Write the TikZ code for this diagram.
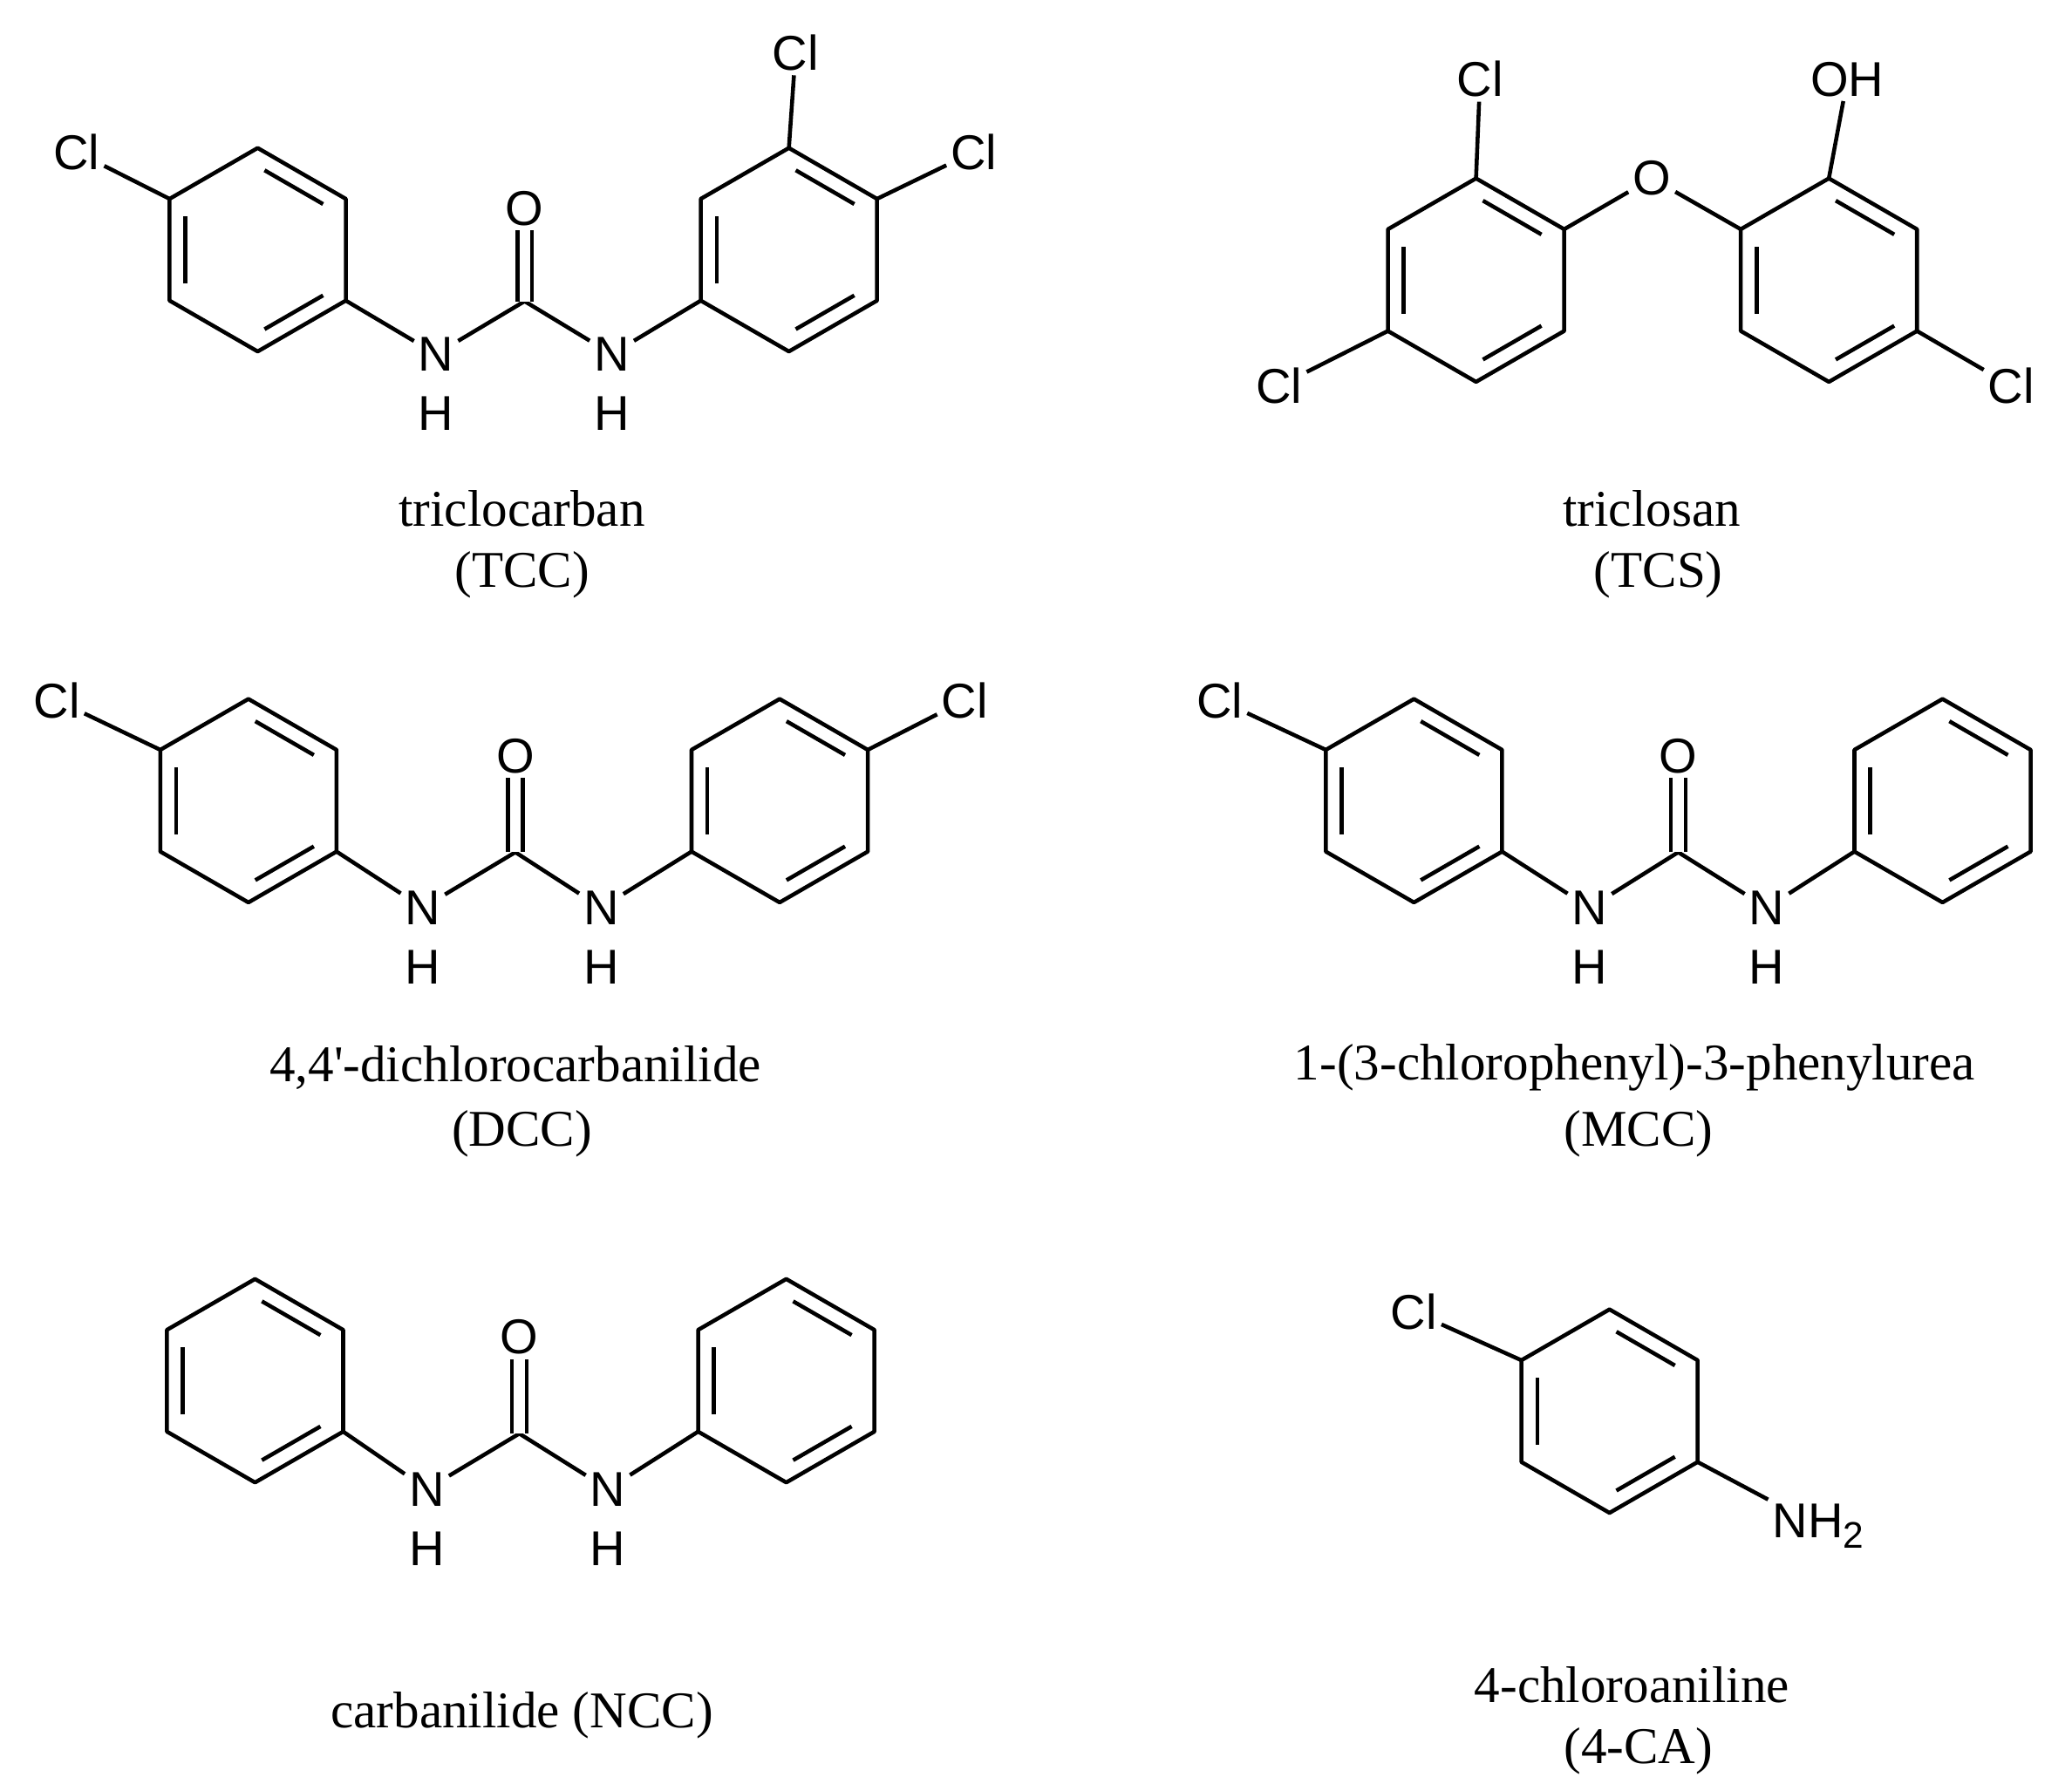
\documentclass[tikz,border=0pt]{standalone}
\usepackage{fontspec}
\setmainfont{Liberation Serif}
\newfontfamily\arialf{Liberation Sans}
\usetikzlibrary{calc}
\tikzset{bond/.style={line width=1.5pt,line join=round},
 atom/.style={font=\arialf\fontsize{18.5}{21}\selectfont,inner sep=1.5pt},
 caption/.style={font=\fontsize{19.5}{22}\selectfont,inner sep=0pt}}
\newcommand\benz[4]{%
 \foreach \i in {0,...,5}{\coordinate (#1\i) at ({#2+77*cos(90-60*\i)},{#3-77*sin(90-60*\i)});}
 \coordinate (#1c) at (#2,#3);
 \draw[bond] (#10)--(#11)--(#12)--(#13)--(#14)--(#15)--cycle;
 \foreach \i/\j in {#4}{\draw[bond,shorten >=3pt,shorten <=3pt] ($(#1c)!0.82!(#1\i)$) -- ($(#1c)!0.82!(#1\j)$);}
}
\newcommand\urea[7]{% prefix, N1x, N2x, Cx, y of N, y of C, y of O
 \node[atom] (#1n1) at (#2,#5) {N};
 \node[atom] (#1h1) at (#2,#5+45) {H};
 \node[atom] (#1n2) at (#3,#5) {N};
 \node[atom] (#1h2) at (#3,#5+45) {H};
 \coordinate (#1c) at (#4,#6);
 \node[atom] (#1o) at (#4,#7) {O};
 \draw[bond] (#1n1) -- (#1c) -- (#1n2);
 \draw[bond,double,double distance=4pt] (#1c) -- (#1o);
}
\begin{document}
\begin{tikzpicture}[x=0.5pt,y=-0.5pt]
\path[fill=white] (0,0) rectangle (1568,1350);
% TCC
\benz{a}{195}{189}{0/1,2/3,4/5}
\benz{b}{597}{189}{0/1,2/3,4/5}
\urea{t}{330}{463}{397}{268}{228}{158}
\node[atom] (tcl1) at (58,115) {Cl};
\node[atom] (tcl2) at (602,40) {Cl};
\node[atom] (tcl3) at (737,115) {Cl};
\draw[bond] (tcl1) -- (a5);
\draw[bond] (a2) -- (tn1);
\draw[bond] (tn2) -- (b4);
\draw[bond] (b0) -- (tcl2);
\draw[bond] (b1) -- (tcl3);
\node[caption] (cap1) at (395,385) {triclocarban};
\node[caption] (cap1b) at (395,435) {(TCC)};
% TCS
\benz{c}{1117}{212}{0/1,2/3,4/5}
\benz{d}{1384}{212}{0/1,2/3,4/5}
\node[atom] (scl1) at (1120,60) {Cl};
\node[atom] (so) at (1250,135) {O};
\node[atom] (soh) at (1398,60) {OH};
\node[atom] (scl2) at (968,292) {Cl};
\node[atom] (scl3) at (1522,292) {Cl};
\draw[bond] (c0) -- (scl1);
\draw[bond] (c1) -- (so) -- (d5);
\draw[bond] (d0) -- (soh);
\draw[bond] (c4) -- (scl2);
\draw[bond] (d2) -- (scl3);
\node[caption] (cap2) at (1250,385) {triclosan};
\node[caption] (cap2b) at (1255,435) {(TCS)};
% DCC
\benz{e}{188}{606}{0/1,2/3,4/5}
\benz{f}{590}{606}{0/1,2/3,4/5}
\urea{u}{320}{455}{390}{687}{645}{572}
\node[atom] (dcl1) at (43,530) {Cl};
\node[atom] (dcl2) at (730,530) {Cl};
\draw[bond] (dcl1) -- (e5);
\draw[bond] (e2) -- (un1);
\draw[bond] (un2) -- (f4);
\draw[bond] (f1) -- (dcl2);
\node[caption] (cap3) at (390,808) {4,4\textquotesingle-dichlorocarbanilide};
\node[caption] (cap3b) at (395,858) {(DCC)};
% MCC
\benz{g}{1070}{606}{0/1,2/3,4/5}
\benz{h}{1470}{606}{0/1,2/3,4/5}
\urea{m}{1203}{1337}{1270}{687}{645}{572}
\node[atom] (mcl1) at (923,530) {Cl};
\draw[bond] (mcl1) -- (g5);
\draw[bond] (g2) -- (mn1);
\draw[bond] (mn2) -- (h4);
\node[caption] (cap4) at (1237,808) {1-(3-chlorophenyl)-3-phenylurea};
\node[caption] (cap4b) at (1240,858) {(MCC)};
% NCC
\benz{i}{193}{1045}{0/1,2/3,4/5}
\benz{j}{595}{1045}{0/1,2/3,4/5}
\urea{n}{323}{460}{393}{1127}{1085}{1012}
\draw[bond] (i2) -- (nn1);
\draw[bond] (nn2) -- (j4);
\node[caption] (cap5) at (395,1298) {carbanilide (NCC)};
% 4-CA
\benz{k}{1218}{1068}{0/1,2/3,4/5}
\node[atom] (kcl) at (1070,993) {Cl};
\node[atom,anchor=west] (knh) at (1338,1155) {NH\raisebox{-4pt}{\fontsize{14}{15}\selectfont 2}};
\draw[bond] (kcl) -- (k5);
\draw[bond] (k2) -- (knh.north west);
\node[caption] (cap6) at (1235,1275) {4-chloroaniline};
\node[caption] (cap6b) at (1240,1325) {(4-CA)};
\end{tikzpicture}
\end{document}
